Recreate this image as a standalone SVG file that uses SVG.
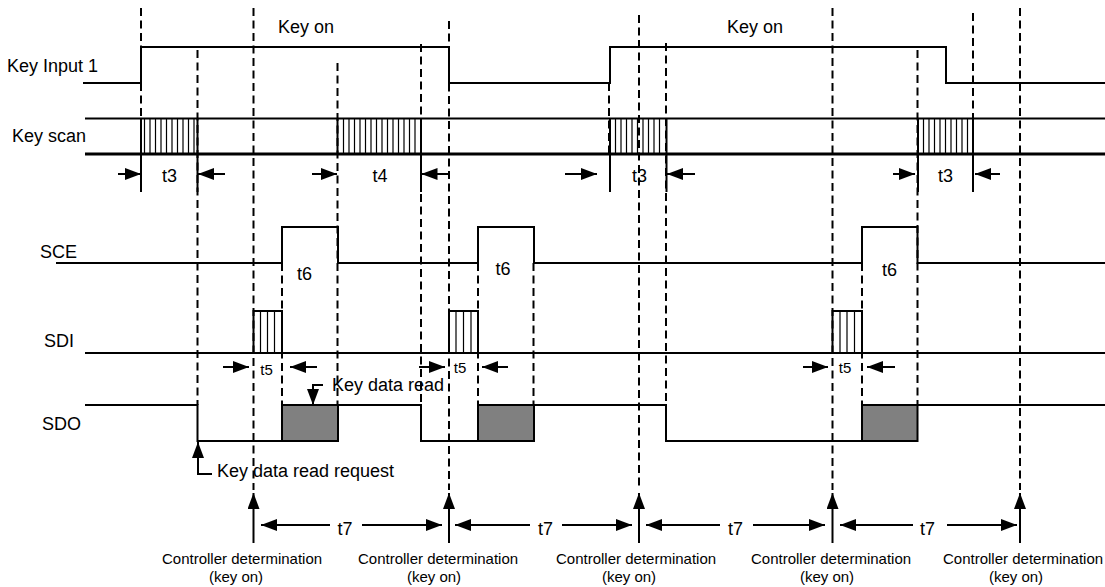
<svg xmlns="http://www.w3.org/2000/svg" width="1105" height="587" viewBox="0 0 1105 587">
<style>
.sig{fill:none;stroke:#000;stroke-width:2}
.thick{fill:none;stroke:#000;stroke-width:3}
.hatch{fill:none;stroke:#000;stroke-width:1.2}
.dash{fill:none;stroke:#000;stroke-width:2;stroke-dasharray:8 4.5}
.arr{fill:none;stroke:#000;stroke-width:2;marker-end:url(#ah)}
.box{fill:#808080;stroke:#000;stroke-width:2}
text{font-family:"Liberation Sans",Arial,sans-serif;font-size:18px;fill:#000}
.sm{font-size:15px}
.mid{text-anchor:middle}
</style>
<defs>
<marker id="ah" markerUnits="userSpaceOnUse" viewBox="0 0 16 12" markerWidth="16" markerHeight="12" refX="16" refY="6" orient="auto"><path d="M0,0 L16,6 L0,12 z" fill="#000"/></marker>
</defs>
<rect width="1105" height="587" fill="#fff"/>

<g id="guides">
<path class="dash" d="M141,8V154 M197.5,50V405 M253.5,8V490 M282,263V405 M337.5,63V405 M421,44V405 M449,21V490 M478,263V405 M533.5,263V405 M609,83V154 M639,15V490 M666,43V405 M832.5,8V490 M862,263V405 M917.5,50V405 M973,13V192 M1020,8V490"/>
</g>

<g id="key-input-1">
<text x="7" y="72">Key Input 1</text>
<path class="sig" d="M83,83 H141 V47 H449 V83 H610 V47 H946 V83 H1105"/>
<text x="278" y="33">Key on</text>
<text x="727" y="33">Key on</text>
</g>

<g id="key-scan">
<text x="12" y="142">Key scan</text>
<path class="sig" d="M85,118.5 H1105"/>
<path class="thick" d="M85,154 H1105"/>
<path class="hatch" d="M144.5,118.5V154 M150,118.5V154 M155.5,118.5V154 M161,118.5V154 M166.5,118.5V154 M172,118.5V154 M177.5,118.5V154 M183,118.5V154 M188.5,118.5V154 M194,118.5V154
M343.5,118.5V154 M349,118.5V154 M354.5,118.5V154 M360,118.5V154 M365.5,118.5V154 M371,118.5V154 M376.5,118.5V154 M382,118.5V154 M387.5,118.5V154 M393,118.5V154 M398.5,118.5V154 M404,118.5V154 M409.5,118.5V154 M415,118.5V154
M615.5,118.5V154 M621,118.5V154 M626.5,118.5V154 M632,118.5V154 M637.5,118.5V154 M643,118.5V154 M648.5,118.5V154 M654,118.5V154 M659.5,118.5V154
M923.5,118.5V154 M929,118.5V154 M934.5,118.5V154 M940,118.5V154 M945.5,118.5V154 M951,118.5V154 M956.5,118.5V154 M962,118.5V154 M967.5,118.5V154"/>
<path class="sig" d="M141,118.5V192 M197.5,118.5V192 M337.5,118.5V154 M421,118.5V192 M610,118.5V192 M666.5,118.5V192 M918,118.5V192 M973,118.5V192"/>
</g>

<g id="sce">
<text x="40" y="258">SCE</text>
<path class="sig" d="M56,263 H282 V227 H338 V263 H478 V227 H534 V263 H862 V227 H917.5 V263 H1105"/>
<text class="mid" x="304.5" y="280">t6</text>
<text class="mid" x="503" y="275">t6</text>
<text class="mid" x="889.5" y="276">t6</text>
</g>

<g id="sdi">
<text x="44" y="347">SDI</text>
<path class="sig" d="M85,353 H1105"/>
<path class="sig" d="M253.5,353 V311 H282 V353 M449,353 V311 H478 V353 M832.5,353 V311 H862 V353"/>
<path class="hatch" d="M260.5,311V353 M267.5,311V353 M274.5,311V353 M456,311V353 M463.5,311V353 M471,311V353 M840,311V353 M847,311V353 M854.5,311V353"/>
</g>

<g id="sdo">
<text x="42" y="430">SDO</text>
<path class="sig" d="M85,405 H197.5 V441 H282 M338,405 H421 V441 H478 M534,405 H666 V441 H862 M917.5,405 H1105"/>
<rect class="box" x="282" y="405" width="56" height="36"/>
<rect class="box" x="478" y="405" width="56" height="36"/>
<rect class="box" x="862" y="405" width="55.5" height="36"/>
<text x="332" y="391">Key data read</text>
<text x="217" y="477">Key data read request</text>
</g>

<g id="controller-1">
<text x="162" y="564" class="sm">Controller determination</text>
<text x="236" y="582" class="sm mid">(key on)</text>
</g>
<g id="controller-2">
<text x="358" y="564" class="sm">Controller determination</text>
<text x="434" y="582" class="sm mid">(key on)</text>
</g>
<g id="controller-3">
<text x="556" y="564" class="sm">Controller determination</text>
<text x="629" y="582" class="sm mid">(key on)</text>
</g>
<g id="controller-4">
<text x="751" y="564" class="sm">Controller determination</text>
<text x="827" y="582" class="sm mid">(key on)</text>
</g>
<g id="controller-5">
<text x="943" y="564" class="sm">Controller determination</text>
<text x="1016" y="582" class="sm mid">(key on)</text>
</g>

<g id="timing-labels">
<text class="mid" x="169.5" y="182">t3</text>
<text class="mid" x="380" y="182">t4</text>
<text class="mid" x="639.5" y="182">t3</text>
<text class="mid" x="945.5" y="182">t3</text>
<text class="sm mid" x="266.5" y="375">t5</text>
<text class="sm mid" x="460" y="373">t5</text>
<text class="sm mid" x="845" y="373">t5</text>
<text class="mid" x="345" y="535">t7</text>
<text class="mid" x="545.5" y="535">t7</text>
<text class="mid" x="735.5" y="535">t7</text>
<text class="mid" x="927.5" y="535">t7</text>
</g>

<g id="connectors">
<line class="arr" x1="118" y1="174" x2="141" y2="174"/>
<line class="arr" x1="225" y1="174" x2="198" y2="174"/>
<line class="arr" x1="312" y1="174" x2="337" y2="174"/>
<line class="arr" x1="448" y1="174" x2="421.5" y2="174"/>
<line class="arr" x1="565" y1="174" x2="597" y2="174"/>
<line class="arr" x1="695" y1="174" x2="667" y2="174"/>
<line class="arr" x1="893" y1="174" x2="915" y2="174"/>
<line class="arr" x1="1000" y1="174" x2="975" y2="174"/>
<line class="arr" x1="223" y1="367" x2="249" y2="367"/>
<line class="arr" x1="317" y1="367" x2="290" y2="367"/>
<line class="arr" x1="419" y1="367" x2="445" y2="367"/>
<line class="arr" x1="508" y1="367" x2="482" y2="367"/>
<line class="arr" x1="803" y1="367" x2="828" y2="367"/>
<line class="arr" x1="895" y1="367" x2="867" y2="367"/>
<polyline class="arr" points="323,385 313,385 313,405"/>
<polyline class="arr" points="212,474 198,474 198,442"/>
<line class="arr" x1="253.5" y1="543" x2="253.5" y2="493"/>
<line class="arr" x1="449" y1="543" x2="449" y2="493"/>
<line class="arr" x1="639" y1="543" x2="639" y2="493"/>
<line class="arr" x1="832.5" y1="543" x2="832.5" y2="493"/>
<line class="arr" x1="1020" y1="543" x2="1020" y2="493"/>
<line class="arr" x1="330" y1="525" x2="261" y2="525"/>
<line class="arr" x1="362" y1="525" x2="442" y2="525"/>
<line class="arr" x1="530" y1="525" x2="455" y2="525"/>
<line class="arr" x1="562" y1="525" x2="632" y2="525"/>
<line class="arr" x1="720" y1="525" x2="646" y2="525"/>
<line class="arr" x1="753" y1="525" x2="825" y2="525"/>
<line class="arr" x1="913" y1="525" x2="840" y2="525"/>
<line class="arr" x1="947" y1="525" x2="1017" y2="525"/>
</g>
</svg>
